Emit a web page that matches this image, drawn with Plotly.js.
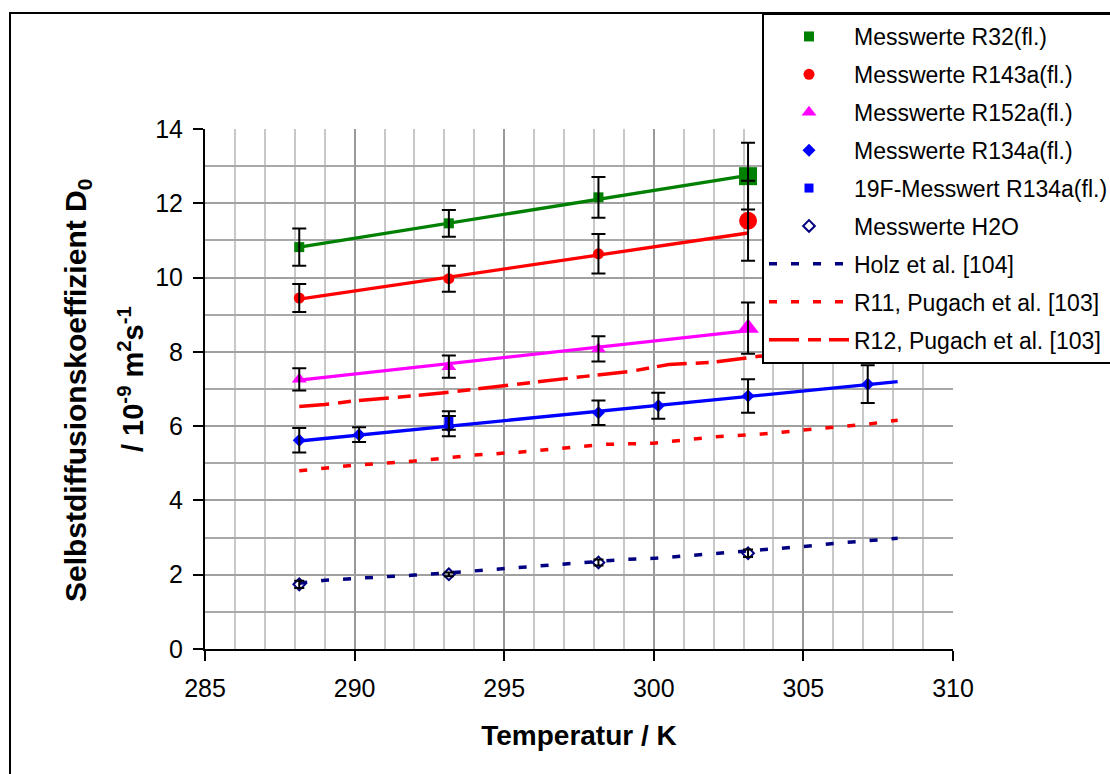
<!DOCTYPE html>
<html><head><meta charset="utf-8">
<script src="https://cdn.plot.ly/plotly-3.0.1.min.js"></script>
<style>body{margin:0;padding:0;background:#fff}#chart{width:1110px;height:774px}</style>
</head><body><div id="chart"></div>
<script>
// ---- data ----
const r32T = [288.15, 293.15, 298.15];
const r32D = [10.82, 11.46, 12.16];
const r32Err = [0.5, 0.36, 0.55];
const r32BigT = [303.15];
const r32BigD = [12.73];
const r32BigErr = [0.9];
const r32FitT = [288.15, 303.15];
const r32FitD = [10.82, 12.75];

const r143aT = [288.15, 293.15, 298.15];
const r143aD = [9.45, 9.97, 10.64];
const r143aErr = [0.38, 0.35, 0.53];
const r143aBigT = [303.15];
const r143aBigD = [11.53];
const r143aBigErr = [1.08];
const r143aFitT = [288.15, 303.15];
const r143aFitD = [9.42, 11.2];

const r152aT = [288.15, 293.15, 298.15];
const r152aD = [7.26, 7.6, 8.08];
const r152aErr = [0.3, 0.3, 0.34];
const r152aBigT = [303.15];
const r152aBigD = [8.64];
const r152aBigErr = [0.69];
const r152aFitT = [288.15, 303.15];
const r152aFitD = [7.24, 8.57];

const r134aT = [288.15, 290.15, 293.15, 298.15, 300.15, 303.15, 307.15];
const r134aD = [5.62, 5.77, 6.0, 6.36, 6.55, 6.81, 7.13];
const r134aErr = [0.33, 0.2, 0.27, 0.33, 0.35, 0.45, 0.51];
const r134aFitT = [288.15, 308.15];
const r134aFitD = [5.6, 7.2];

const f19T = [293.15];
const f19D = [6.15];
const f19Err = [0.25];

const h2oT = [288.15, 293.15, 298.15, 303.15];
const h2oD = [1.74, 2.01, 2.33, 2.58];
const h2oErr = [0.1, 0.05, 0.08, 0.1];

const holzT = [288.15, 289, 290, 291, 292, 293.15, 294, 295, 296, 297, 298.15, 299, 300, 301, 302, 303.15, 304, 305, 306, 307, 308.15];
const holzD = [1.77, 1.85, 1.9, 1.94, 1.99, 2.05, 2.1, 2.16, 2.22, 2.27, 2.36, 2.41, 2.44, 2.5, 2.58, 2.65, 2.7, 2.76, 2.84, 2.91, 2.98];

const r11T = [288.15, 290, 292, 293.3, 294, 295.5, 297, 298.4, 300, 301.3, 302, 303.5, 305, 306.4, 307.2, 308.15];
const r11D = [4.8, 4.95, 5.06, 5.16, 5.22, 5.3, 5.41, 5.51, 5.54, 5.66, 5.71, 5.78, 5.9, 6.0, 6.06, 6.16];

const r12T = [288.15, 289, 290, 291, 292, 293, 294, 296, 297.7, 299.2, 300.5, 302, 303.5, 305, 308.15];
const r12D = [6.53, 6.58, 6.68, 6.74, 6.82, 6.9, 7.0, 7.18, 7.34, 7.47, 7.66, 7.72, 7.88, 7.95, 8.15];

const xTicks = [285, 290, 295, 300, 305, 310];
const yTicks = [0, 2, 4, 6, 8, 10, 12, 14];

const names = ['Messwerte R32(fl.)', 'Messwerte R143a(fl.)', 'Messwerte R152a(fl.)', 'Messwerte R134a(fl.)',
  '19F-Messwert R134a(fl.)', 'Messwerte H2O', 'Holz et al. [104]', 'R11, Pugach et al. [103]', 'R12, Pugach et al. [103]'];

// ---- styles ----
const GREEN = '#008000', RED = '#ff0000', MAG = '#ff00ff', BLUE = '#0000ff', NAVY = '#000080';
const FONT = 'Liberation Sans, Arial, sans-serif';

function line(x, y, color, dash, width, name, rank) {
  return {x, y, type: 'scatter', mode: 'lines', line: {color, dash, width},
    name: name || ' ', showlegend: !!name, legendrank: rank || 1000, legendgroup: name || undefined, hoverinfo: 'skip'};
}
function pts(x, y, symbol, color, size, name, rank, openLine) {
  const m = {symbol, color, size};
  if (openLine) m.line = {color, width: 2};
  return {x, y, type: 'scatter', mode: 'markers', marker: m,
    name: name || ' ', showlegend: !!name, legendrank: rank || 1000, legendgroup: name || undefined, hoverinfo: 'skip'};
}
function errs(x, y, e, w) {
  return {x, y, type: 'scatter', mode: 'markers', marker: {size: 1, opacity: 0}, showlegend: false, hoverinfo: 'skip',
    name: ' ', error_y: {type: 'data', array: e, visible: true, color: '#000', thickness: 2, width: w}};
}

const traces = [
  line(holzT, holzD, NAVY, '8px,14px', 3.5, names[6], 7),
  line(r11T, r11D, RED, '8px,14px', 3.5, names[7], 8),
  line(r12T, r12D, RED, '30px,9px,13px,8px', 3.5, names[8], 9),
  line(r32FitT, r32FitD, GREEN, 'solid', 3.3),
  line(r143aFitT, r143aFitD, RED, 'solid', 3.3),
  line(r152aFitT, r152aFitD, MAG, 'solid', 3.3),
  line(r134aFitT, r134aFitD, BLUE, 'solid', 3.3),
  pts(r32T, r32D, 'square', GREEN, 10, names[0], 1),
  pts(r32BigT, r32BigD, 'square', GREEN, 18),
  pts(r143aT, r143aD, 'circle', RED, 11, names[1], 2),
  pts(r143aBigT, r143aBigD, 'circle', RED, 18),
  pts(r152aT, r152aD, 'triangle-up', MAG, 13, names[2], 3),
  pts(r152aBigT, r152aBigD, 'triangle-up', MAG, 19),
  pts(f19T, f19D, 'square', BLUE, 9, names[4], 5),
  pts(r134aT, r134aD, 'diamond', BLUE, 10, names[3], 4),
  pts(h2oT, h2oD, 'diamond-open', NAVY, 9, names[5], 6, true),
  errs(r32T, r32D, r32Err, 7),
  errs(r32BigT, r32BigD, r32BigErr, 7),
  errs(r143aT, r143aD, r143aErr, 7),
  errs(r143aBigT, r143aBigD, r143aBigErr, 7),
  errs(r152aT, r152aD, r152aErr, 7),
  errs(r152aBigT, r152aBigD, r152aBigErr, 7),
  errs(r134aT, r134aD, r134aErr, 7),
  errs(f19T, f19D, f19Err, 7),
  errs(h2oT, h2oD, h2oErr, 5)
];

const L = 205, R = 953, T = 129, B = 649, W = 1110, H = 774;
const pw = R - L, ph = B - T;
const px = v => (v - L) / pw;
const py = v => (B - v) / ph;

const layout = {
  width: W, height: H,
  margin: {l: L, r: W - R, t: T, b: H - B, autoexpand: false},
  paper_bgcolor: '#fff', plot_bgcolor: '#fff',
  font: {family: FONT, color: '#000', size: 25},
  showlegend: true,
  xaxis: {
    range: [285, 310], tickvals: xTicks, ticktext: xTicks.map(String),
    showgrid: true, gridcolor: '#999999', gridwidth: 2,
    minor: {dtick: 1, tick0: 285, showgrid: true, gridcolor: '#c8c8c8', gridwidth: 2},
    showline: true, linecolor: '#000', linewidth: 2, ticks: 'outside', ticklen: 10, tickwidth: 2, tickcolor: '#000',
    tickfont: {size: 25, family: FONT}, zeroline: false, ticklabelstandoff: 6,
    title: {text: 'Temperatur / K', font: {size: 28, family: FONT, weight: 'bold'}, standoff: 24}
  },
  yaxis: {
    range: [0, 14], tickvals: yTicks, ticktext: yTicks.map(String),
    showgrid: true, gridcolor: '#a0a0a0', gridwidth: 2,
    minor: {dtick: 1, tick0: 0, showgrid: true, gridcolor: '#a8a8a8', gridwidth: 2},
    showline: true, linecolor: '#000', linewidth: 2, ticks: 'outside', ticklen: 10, tickwidth: 2, tickcolor: '#000',
    tickfont: {size: 25, family: FONT}, zeroline: false, ticklabelstandoff: 5
  },
  legend: {
    x: px(762), y: py(13), xanchor: 'left', yanchor: 'top',
    bgcolor: '#fff', bordercolor: '#000', borderwidth: 2,
    font: {size: 23, family: FONT, color: '#000'},
    itemwidth: 80, tracegroupgap: 5, traceorder: 'grouped', itemclick: false
  },
  annotations: [
    {text: '<b>Selbstdiffusionskoeffizient D<sub>0</sub></b>', xref: 'paper', yref: 'paper', x: px(77), y: py(391),
      xanchor: 'center', yanchor: 'middle', textangle: -90, showarrow: false, font: {size: 30, family: FONT}},
    {text: '<b>/ 10<sup>-9</sup> m<sup>2</sup>s<sup>-1</sup></b>', xref: 'paper', yref: 'paper', x: px(131), y: py(379),
      xanchor: 'center', yanchor: 'middle', textangle: -90, showarrow: false, font: {size: 29, family: FONT}}
  ],
  shapes: [
    {type: 'rect', xref: 'paper', yref: 'paper', x0: px(10), x1: px(1130), y0: py(800), y1: py(13),
      line: {color: '#000', width: 2}, fillcolor: 'rgba(0,0,0,0)', layer: 'below'}
  ]
};

Plotly.newPlot('chart', traces, layout, {staticPlot: true, displayModeBar: false});
</script>
</body></html>
